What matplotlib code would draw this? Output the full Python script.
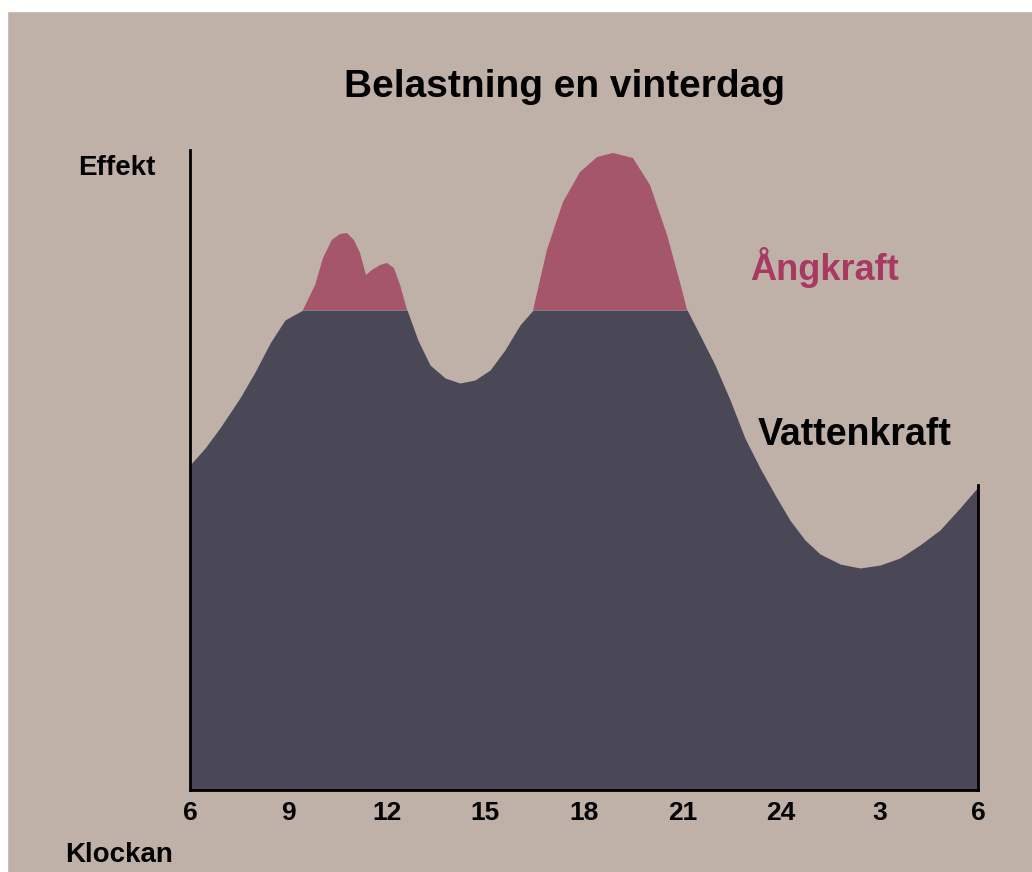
import matplotlib.pyplot as plt
import numpy as np

plt.rcParams['font.family'] = ['Liberation Sans', 'DejaVu Sans']

# load curve (hours since 06, arbitrary power units)
hours = [6.00, 6.46, 6.91, 7.52, 7.98, 8.44, 8.89, 9.44, 9.81, 10.05, 10.32,
         10.57, 10.78, 10.99, 11.18, 11.36, 11.54, 11.79, 12.00, 12.21, 12.40,
         12.61, 12.94, 13.31, 13.77, 14.22, 14.68, 15.14, 15.59, 16.05, 16.45,
         16.87, 17.36, 17.88, 18.40, 18.88, 19.49, 20.01, 20.53, 20.92, 21.14,
         21.53, 21.99, 22.45, 22.90, 23.36, 23.82, 24.27, 24.73, 25.19, 25.80,
         26.41, 27.02, 27.62, 28.23, 28.84, 29.45, 30.00]
load = [325, 342, 362, 392, 418, 447, 470, 480, 505, 532, 550,
        556, 557, 550, 537, 515, 520, 525, 527, 522, 505,
        480, 450, 425, 412, 407, 410, 420, 440, 465, 480,
        540, 588, 618, 633, 637, 632, 605, 555, 508, 480,
        455, 425, 390, 352, 322, 295, 270, 250, 236, 226,
        222, 225, 232, 245, 260, 282, 303]
hydro_cap = 480

tick_pos = [6, 9, 12, 15, 18, 21, 24, 27, 30]
tick_labels = ['6', '9', '12', '15', '18', '21', '24', '3', '6']

bg = '#bfb0a8'
dark = '#4a4757'
red = '#a5566a'

h = np.array(hours)
p = np.array(load)

fig = plt.figure(figsize=(10.32, 8.72), dpi=100, facecolor=bg)
W, H = 1032, 872
ax = fig.add_axes([190 / W, (H - 790) / H, (978 - 190) / W, (790 - 150) / H])
ax.set_facecolor(bg)

# hydro power up to the cap, steam power above it
ax.fill_between(h, 0, np.minimum(p, hydro_cap), color=dark, lw=0)
ax.fill_between(h, hydro_cap, p, where=p > hydro_cap, interpolate=True,
                color=red, lw=0)

ax.set_xlim(6, 30)
ax.set_ylim(0, 640)
ax.set_yticks([])
ax.set_xticks(tick_pos)
ax.set_xticklabels(tick_labels, fontsize=19, fontweight='bold')
ax.tick_params(axis='x', length=0, pad=8)

ax.spines['top'].set_visible(False)
for s in ['left', 'bottom', 'right']:
    ax.spines[s].set_color('black')
    ax.spines[s].set_linewidth(2)
ax.spines['right'].set_bounds(0, 305)

# white scan margins at top and left
fig.patches.append(plt.Rectangle((0, 1 - 11 / H), 1, 11 / H, color='white',
                                 transform=fig.transFigure, zorder=0))
fig.patches.append(plt.Rectangle((0, 0), 7 / W, 1, color='white',
                                 transform=fig.transFigure, zorder=0))

fig.text(565 / W, 1 - 97 / H, 'Belastning en vinterdag', fontsize=28,
         fontweight='bold', ha='center', va='baseline')
fig.text(78 / W, 1 - 175 / H, 'Effekt', fontsize=20, fontweight='bold',
         ha='left', va='baseline')
fig.text(65 / W, 1 - 862 / H, 'Klockan', fontsize=20, fontweight='bold',
         ha='left', va='baseline')
fig.text(750 / W, 1 - 280 / H, 'Ångkraft', fontsize=26, fontweight='bold',
         color='#a83a62', ha='left', va='baseline')
fig.text(758 / W, 1 - 445 / H, 'Vattenkraft', fontsize=27, fontweight='bold',
         color='black', ha='left', va='baseline')

fig.savefig('out.png', dpi=100, facecolor=bg)
